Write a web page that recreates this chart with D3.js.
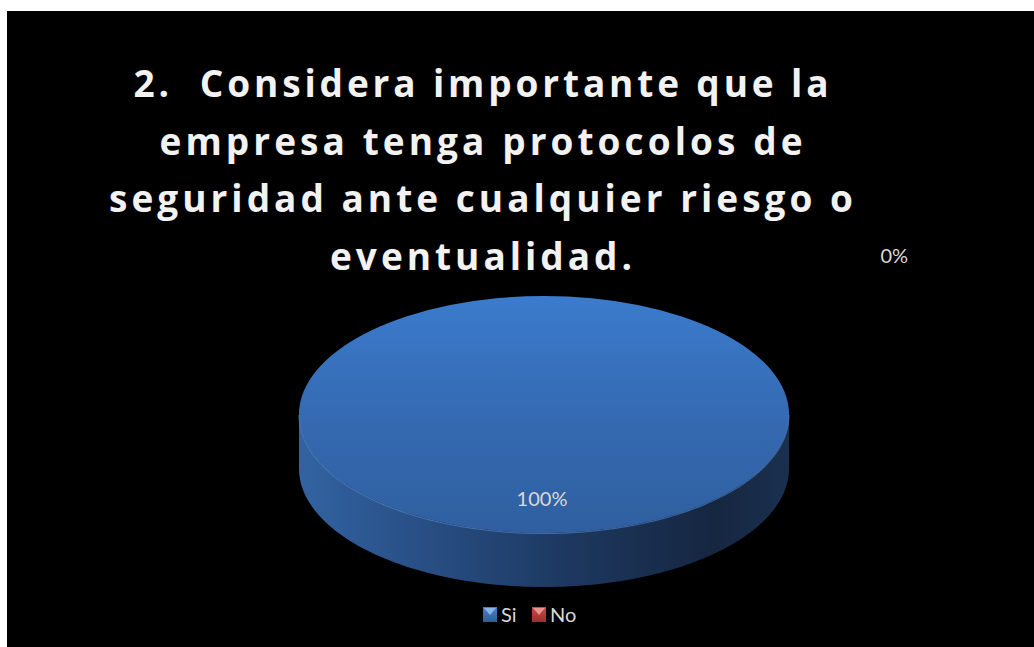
<!DOCTYPE html>
<html>
<head>
<meta charset="utf-8">
<script src="https://cdn.jsdelivr.net/npm/d3@7"></script>
<style>
  html, body { margin: 0; padding: 0; background: #ffffff; }
  svg { display: block; }
</style>
</head>
<body>
<div id="chart"></div>
<script>
// ---- data ----
const categories = ["Si", "No"];
const values = [100, 0];
const percentLabels = ["100%", "0%"];
const titleLines = [
  "2.\u00a0 Considera importante que la",
  "empresa tenga protocolos de",
  "seguridad ante cualquier riesgo o",
  "eventualidad."
];
const titleWidths = [695, 643, 744, 302];

// ---- layout ----
const W = 1034, H = 647;
const cx = 544, cy = 414.5, rx = 245, ry = 118.5, depth = 54;

const svg = d3.select("#chart").append("svg")
  .attr("width", W).attr("height", H);

svg.append("rect").attr("x", 7).attr("y", 11)
  .attr("width", W - 7).attr("height", H - 11).attr("fill", "#000000");

const defs = svg.append("defs");
const topGrad = defs.append("linearGradient").attr("id", "topGrad")
  .attr("x1", 0).attr("y1", 0).attr("x2", 0).attr("y2", 1);
topGrad.append("stop").attr("offset", "0%").attr("stop-color", "#3b7bcd");
topGrad.append("stop").attr("offset", "55%").attr("stop-color", "#3469b0");
topGrad.append("stop").attr("offset", "100%").attr("stop-color", "#2f5fa0");

const sideGrad = defs.append("linearGradient").attr("id", "sideGrad")
  .attr("x1", 0).attr("y1", 0).attr("x2", 1).attr("y2", 0);
sideGrad.append("stop").attr("offset", "0%").attr("stop-color", "#3263a2");
sideGrad.append("stop").attr("offset", "25%").attr("stop-color", "#284f85");
sideGrad.append("stop").attr("offset", "55%").attr("stop-color", "#1d3860");
sideGrad.append("stop").attr("offset", "85%").attr("stop-color", "#152640");
sideGrad.append("stop").attr("offset", "100%").attr("stop-color", "#1b3050");

const legGradSi = defs.append("linearGradient").attr("id", "legSi")
  .attr("x1", 0).attr("y1", 0).attr("x2", 0).attr("y2", 1);
legGradSi.append("stop").attr("offset", "0%").attr("stop-color", "#4a80c8");
legGradSi.append("stop").attr("offset", "100%").attr("stop-color", "#2f5d99");
const legGradNo = defs.append("linearGradient").attr("id", "legNo")
  .attr("x1", 0).attr("y1", 0).attr("x2", 0).attr("y2", 1);
legGradNo.append("stop").attr("offset", "0%").attr("stop-color", "#c94a47");
legGradNo.append("stop").attr("offset", "100%").attr("stop-color", "#9a2f2d");

const sliceFill = ["url(#topGrad)", "#c0504d"];
const sideFill = ["url(#sideGrad)", "#8c3230"];
const legendFill = ["url(#legSi)", "url(#legNo)"];
const legendLight = ["#8cbcf0", "#f09a98"];

// ---- title ----
const title = svg.append("text")
  .attr("font-family", "'Open Sans', Lato, sans-serif")
  .attr("font-weight", 700)
  .attr("font-size", 37)
  .attr("fill", "#f2f2f2")
  .attr("text-anchor", "middle");
titleLines.forEach((t, i) => {
  title.append("tspan")
    .attr("x", 481)
    .attr("y", 97 + i * 57.5)
    .attr("textLength", titleWidths[i])
    .attr("lengthAdjust", "spacing")
    .text(t);
});

// ---- pie ----
const pie = d3.pie().sort(null).startAngle(0).endAngle(2 * Math.PI);
const arcs = pie(values);
const arcGen = d3.arc().innerRadius(0).outerRadius(rx);
const labelArc = d3.arc().innerRadius(rx * 0.71).outerRadius(rx * 0.71);

const pt = (a, dy) => [cx + rx * Math.sin(a), cy - ry * Math.cos(a) + dy];

// side walls (front half only)
const sideLine = d3.line();
arcs.forEach((d, i) => {
  if (d.value <= 0) return;
  const a0 = Math.max(d.startAngle, Math.PI / 2);
  const a1 = Math.min(d.endAngle, 3 * Math.PI / 2);
  if (a1 <= a0) return;
  const n = 120;
  const angs = d3.range(n + 1).map(k => a0 + (a1 - a0) * k / n);
  const ptsTop = angs.map(a => pt(a, 0));
  const ptsBot = angs.slice().reverse().map(a => pt(a, depth));
  svg.append("path")
    .attr("d", sideLine(ptsTop.concat(ptsBot)) + "Z")
    .attr("fill", sideFill[i]);
});

// top faces
const topG = svg.append("g")
  .attr("transform", `translate(${cx},${cy}) scale(1,${ry / rx})`);
topG.selectAll("path.slice")
  .data(arcs.filter(d => d.value > 0))
  .join("path")
  .attr("class", "slice")
  .attr("d", arcGen)
  .attr("fill", d => sliceFill[d.index]);

// subtle rim highlight on the front edge
{
  const angs = d3.range(121).map(k => Math.PI / 2 + Math.PI * k / 120);
  svg.append("path")
    .attr("d", sideLine(angs.map(a => pt(a, 0.5))))
    .attr("fill", "none")
    .attr("stroke", "#5a90d6")
    .attr("stroke-opacity", 0.55)
    .attr("stroke-width", 1.2);
}

// data labels
arcs.forEach((d, i) => {
  let x, y;
  if (d.value > 0) {
    const c = labelArc.centroid(d);
    x = cx + c[0] - 2;
    y = cy + c[1] * (ry / rx);
  } else {
    x = cx + rx * 1.43;
    y = cy - ry * 1.34;
  }
  svg.append("text")
    .attr("x", x).attr("y", y)
    .attr("dy", "0.35em")
    .attr("text-anchor", "middle")
    .attr("font-family", "Lato, 'Open Sans', sans-serif")
    .attr("font-size", 20)
    .attr("fill", "#d9d9d9")
    .text(percentLabels[i]);
});

// legend
const legX = [483, 532];
const legY = 607;
categories.forEach((c, i) => {
  const g = svg.append("g").attr("transform", `translate(${legX[i]},${legY})`);
  g.append("rect").attr("width", 14).attr("height", 15).attr("fill", legendFill[i]);
  g.append("path").attr("d", "M1,1 L13,1 L7,8 Z").attr("fill", legendLight[i]).attr("opacity", 0.9);
  g.append("text")
    .attr("x", 18).attr("y", 15)
    .attr("font-family", "Lato, 'Open Sans', sans-serif")
    .attr("font-size", 20)
    .attr("fill", "#d9d9d9")
    .text(c);
});
</script>
</body>
</html>
